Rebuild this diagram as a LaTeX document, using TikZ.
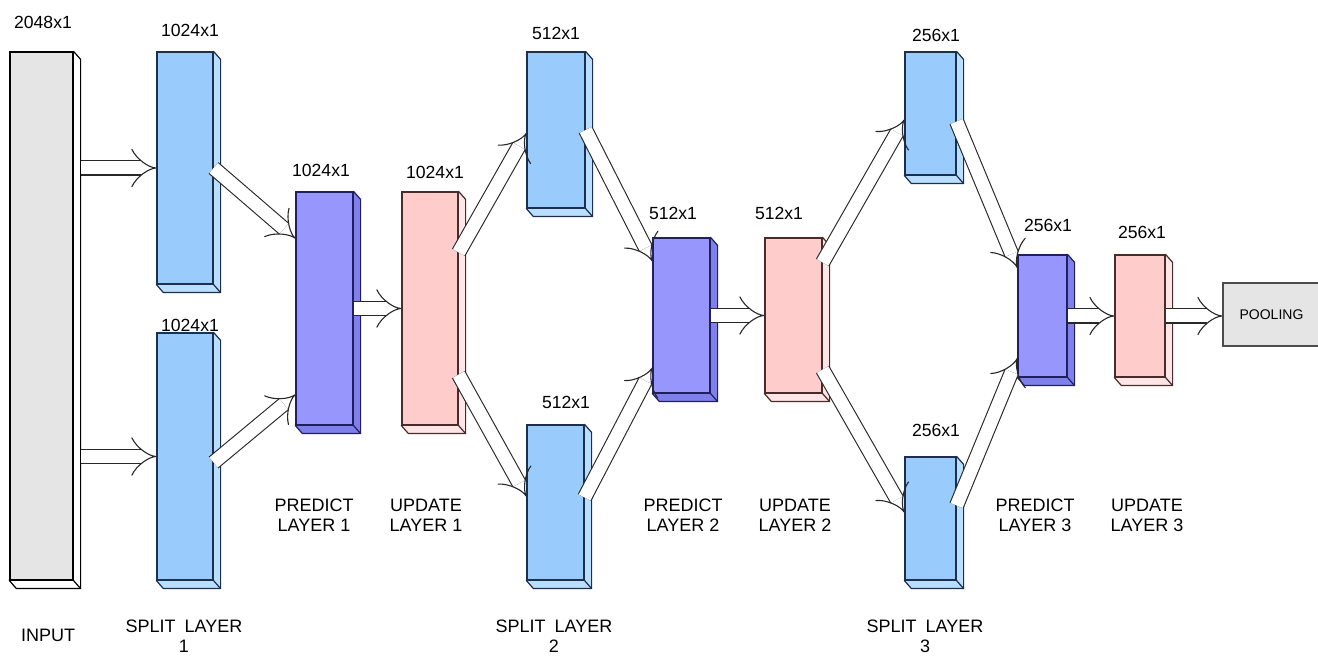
\documentclass[tikz,border=0pt]{standalone}
\usepackage{xcolor}
\usepackage{fontspec}
\setmainfont{Liberation Sans}
\usetikzlibrary{arrows.meta, backgrounds}
\definecolor{inGray}{RGB}{229,229,229}
\definecolor{splitBlue}{RGB}{153,204,252}
\definecolor{splitSide}{RGB}{185,222,255}
\definecolor{splitLine}{RGB}{28,48,78}
\definecolor{predBlue}{RGB}{150,150,252}
\definecolor{predSide}{RGB}{128,128,236}
\definecolor{predLine}{RGB}{32,32,96}
\definecolor{updPink}{RGB}{255,204,204}
\definecolor{updSide}{RGB}{255,230,230}
\definecolor{updLine}{RGB}{72,44,44}
\definecolor{flowLine}{RGB}{40,40,40}

\begin{document}
\begin{tikzpicture}[
    x=0.5pt, y=-0.5pt,
    slab/.style={line width=0.6pt, inner sep=0pt},
    inbox/.style={slab, draw=black, fill=inGray, minimum width=31.5pt},
    splitbox/.style={slab, draw=splitLine, fill=splitBlue},
    predbox/.style={slab, draw=predLine, fill=predBlue},
    updbox/.style={slab, draw=updLine, fill=updPink},
    poolbox/.style={slab, draw=black!70, fill=inGray, font=\fontsize{7}{8}\selectfont},
    dim/.style={font=\fontsize{8.8}{10}\selectfont},
    tag/.style={align=center, font=\fontsize{9}{10}\selectfont},
    flow/.style={draw=flowLine, line width=0.55pt, double=white, double distance=6.5pt, -{Implies[length=2.5pt, width=9pt]}}
]
    \useasboundingbox (0,0) rectangle (1318,657);

    % front faces
    \node[inbox, minimum height=264pt] (input) at (41.5,316) {};
    \node[splitbox, minimum width=28pt, minimum height=116pt] (s1a) at (185,168) {};
    \node[splitbox, minimum width=28pt, minimum height=123.5pt] (s1b) at (185,456.5) {};
    \node[predbox, minimum width=28.5pt, minimum height=116.5pt] (p1) at (324.5,308.5) {};
    \node[updbox, minimum width=28pt, minimum height=116.5pt] (u1) at (430,308.5) {};
    \node[splitbox, minimum width=29pt, minimum height=78pt] (s2a) at (556,130) {};
    \node[splitbox, minimum width=28.5pt, minimum height=77.5pt] (s2b) at (555.5,502.5) {};
    \node[predbox, minimum width=28.5pt, minimum height=77.5pt] (p2) at (681.5,315.5) {};
    \node[updbox, minimum width=28.5pt, minimum height=77.5pt] (u2) at (793.5,315.5) {};
    \node[splitbox, minimum width=25.5pt, minimum height=61.5pt] (s3a) at (930.5,113.5) {};
    \node[splitbox, minimum width=25.5pt, minimum height=61.5pt] (s3b) at (930.5,518.5) {};
    \node[predbox, minimum width=24.5pt, minimum height=61pt] (p3) at (1042.5,316) {};
    \node[updbox, minimum width=25pt, minimum height=61pt] (u3) at (1140,316) {};
    \node[poolbox, minimum width=48.5pt, minimum height=31.5pt] (pool) at (1271.5,314.5) {POOLING};

    % depth faces
    \begin{scope}[on background layer]
    \foreach \b/\c/\l in {input/white/black, s1a/splitSide/splitLine, s1b/splitSide/splitLine,
        p1/predSide/predLine, u1/updSide/updLine, s2a/splitSide/splitLine, s2b/splitSide/splitLine,
        p2/predSide/predLine, u2/updSide/updLine, s3a/splitSide/splitLine, s3b/splitSide/splitLine,
        p3/predSide/predLine, u3/updSide/updLine}
    {
        \filldraw[fill=\c, draw=\l, line width=0.6pt, line join=round]
            (\b.north east) -- ++(7,8) |- ([shift={(7,8)}]\b.south west) -- (\b.south west) -- cycle;
        \draw[\l, line width=0.6pt] (\b.south east) -- ++(7,8);
    }
    \end{scope}

    % sizes
    \node[dim] (dIn) at (43,22) {2048x1};
    \node[dim] (dS1a) at (190,30) {1024x1};
    \node[dim] (dS1b) at (190,325) {1024x1};
    \node[dim] (dP1) at (321,170) {1024x1};
    \node[dim] (dU1) at (435,172) {1024x1};
    \node[dim] (dS2a) at (556,33) {512x1};
    \node[dim] (dS2b) at (566,402) {512x1};
    \node[dim] (dP2) at (673,213) {512x1};
    \node[dim] (dU2) at (779,213) {512x1};
    \node[dim] (dS3a) at (936,35) {256x1};
    \node[dim] (dS3b) at (936,430) {256x1};
    \node[dim] (dP3) at (1048,225) {256x1};
    \node[dim] (dU3) at (1142,232) {256x1};

    % layer names
    \node[tag] (tIn) at (48,635) {INPUT};
    \node[tag] (tS1) at (184,636) {SPLIT\enspace LAYER\\1};
    \node[tag] (tP1) at (314,515) {PREDICT\\LAYER 1};
    \node[tag] (tU1) at (426,515) {UPDATE\\LAYER 1};
    \node[tag] (tS2) at (554,636) {SPLIT\enspace LAYER\\2};
    \node[tag] (tP2) at (683,515) {PREDICT\\LAYER 2};
    \node[tag] (tU2) at (795,515) {UPDATE\\LAYER 2};
    \node[tag] (tS3) at (925,636) {SPLIT\enspace LAYER\\3};
    \node[tag] (tP3) at (1035,515) {PREDICT\\LAYER 3};
    \node[tag] (tU3) at (1147,515) {UPDATE\\LAYER 3};

    % connectors
    \draw[flow] ([xshift=3.5pt]input.east |- s1a.west) -- (s1a.west);
    \draw[flow] ([xshift=3.5pt]input.east |- s1b.west) -- (s1b.west);
    \draw[flow] (s1a.east) -- ([yshift=35pt]p1.west);
    \draw[flow] ([yshift=-3pt]s1b.east) -- ([yshift=-43pt]p1.west);
    \draw[flow] (p1.east) -- (u1.west);
    \draw[flow] ([yshift=28pt]u1.east) -- ([yshift=-1.5pt]s2a.west);
    \draw[flow] ([yshift=-33pt]u1.east) -- ([yshift=3pt]s2b.west);
    \draw[flow] (s2a.east) -- ([yshift=27pt]p2.west);
    \draw[flow] ([yshift=2.5pt]s2b.east) -- ([yshift=-26pt]p2.west);
    \draw[flow] (p2.east) -- (u2.west);
    \draw[flow] ([yshift=26.5pt]u2.east) -- ([yshift=-3pt]s3a.west);
    \draw[flow] ([yshift=-27pt]u2.east) -- ([yshift=3pt]s3b.west);
    \draw[flow] ([yshift=-4pt]s3a.east) -- ([yshift=24pt]p3.west);
    \draw[flow] ([yshift=6.5pt]s3b.east) -- ([yshift=-21pt]p3.west);
    \draw[flow] (p3.east) -- (u3.west);
    \draw[flow] (u3.east) -- (u3.east -| pool.west);
\end{tikzpicture}
\end{document}
